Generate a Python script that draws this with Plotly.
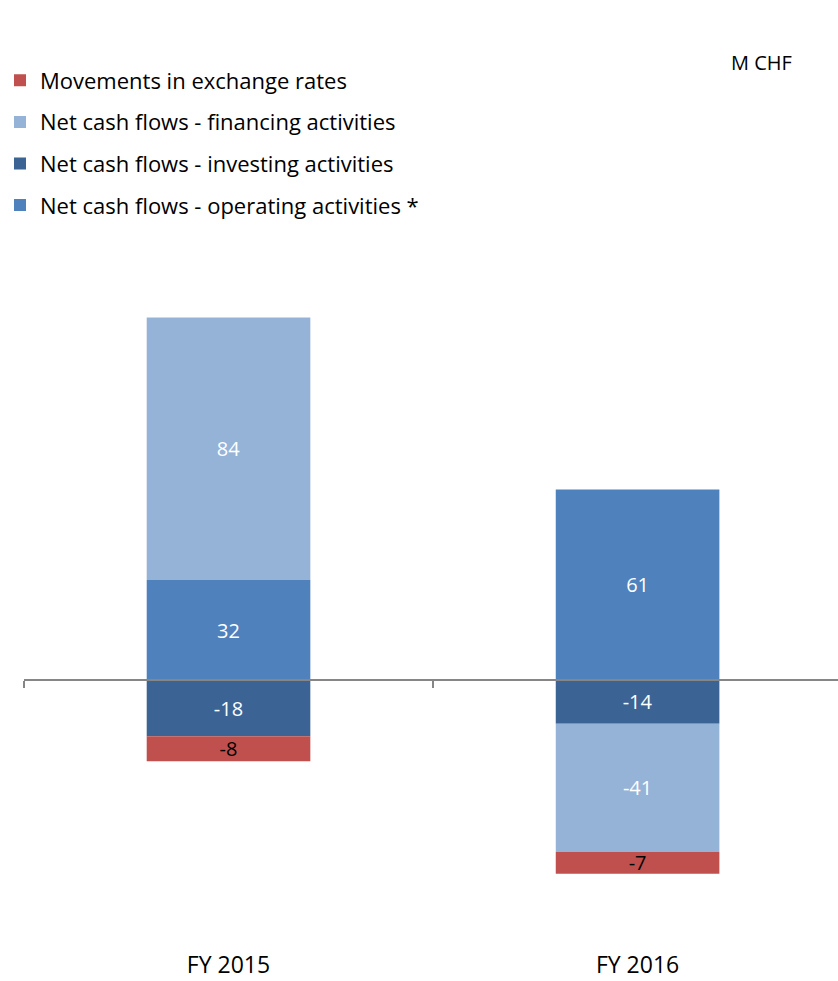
import plotly.graph_objects as go

categories = ["FY 2015", "FY 2016"]
operating = [32, 61]
investing = [-18, -14]
financing = [84, -41]
exchange = [-8, -7]

series = [
    ("Net cash flows - operating activities *", operating, "#4F81BD", "white", 4),
    ("Net cash flows - investing activities", investing, "#3B6494", "white", 3),
    ("Net cash flows - financing activities", financing, "#95B3D7", "white", 2),
    ("Movements in exchange rates", exchange, "#C0504D", "black", 1),
]

FONT = "Open Sans"
fig = go.Figure()
for i, (name, vals, color, tcolor, rank) in enumerate(series):
    fig.add_trace(go.Bar(
        x=categories, y=vals, name=name, legendgroup=f"g{i}", legendrank=rank,
        marker=dict(color=color, line=dict(width=0)),
        text=[str(v) for v in vals], textposition="inside",
        insidetextanchor="middle", textangle=0,
        textfont=dict(color=tcolor, size=20, family=FONT),
    ))

# helper trace for the zero axis with boundary ticks
fig.add_trace(go.Scatter(x=categories, y=[0, 0], xaxis="x2", mode="none",
                         showlegend=False, hoverinfo="skip"))

T, B = 305, 32
H = 981 - T - B
ymin, ymax = -86.08, 120
xr = [-0.5, 1.49]
fig.update_layout(
    width=838, height=981,
    margin=dict(l=24, r=0, t=T, b=B, autoexpand=False),
    paper_bgcolor="white", plot_bgcolor="white",
    barmode="relative", bargap=0.6,
    uniformtext=dict(minsize=20, mode="show"),
    font=dict(family=FONT, size=22, color="black"),
    showlegend=True,
    legend=dict(xref="container", yref="container", x=0.0, y=1 - 59.5 / 981,
                xanchor="left", yanchor="top",
                traceorder="grouped", tracegroupgap=10,
                font=dict(size=22, family=FONT), bgcolor="rgba(0,0,0,0)"),
    xaxis=dict(type="category", categoryarray=categories, range=xr,
               showline=False, ticks="", showgrid=False, zeroline=False,
               tickfont=dict(size=23, family=FONT)),
    xaxis2=dict(type="category", categoryarray=categories, range=xr,
                overlaying="x", anchor="free",
                position=(0 - ymin) / (ymax - ymin),
                showline=True, linecolor="#868686", linewidth=2,
                ticks="outside", tickson="boundaries", ticklen=7,
                tickcolor="#868686", tickwidth=2,
                showticklabels=False, showgrid=False, zeroline=False),
    yaxis=dict(range=[ymin, ymax], visible=False, showgrid=False, zeroline=False),
    annotations=[dict(text="M CHF", xref="paper", yref="paper",
                      x=(761 - 24) / 814, y=1 + (T - 62) / H,
                      xanchor="center", yanchor="middle", showarrow=False,
                      font=dict(size=20, family=FONT))],
)

fig.write_html("out.html")
